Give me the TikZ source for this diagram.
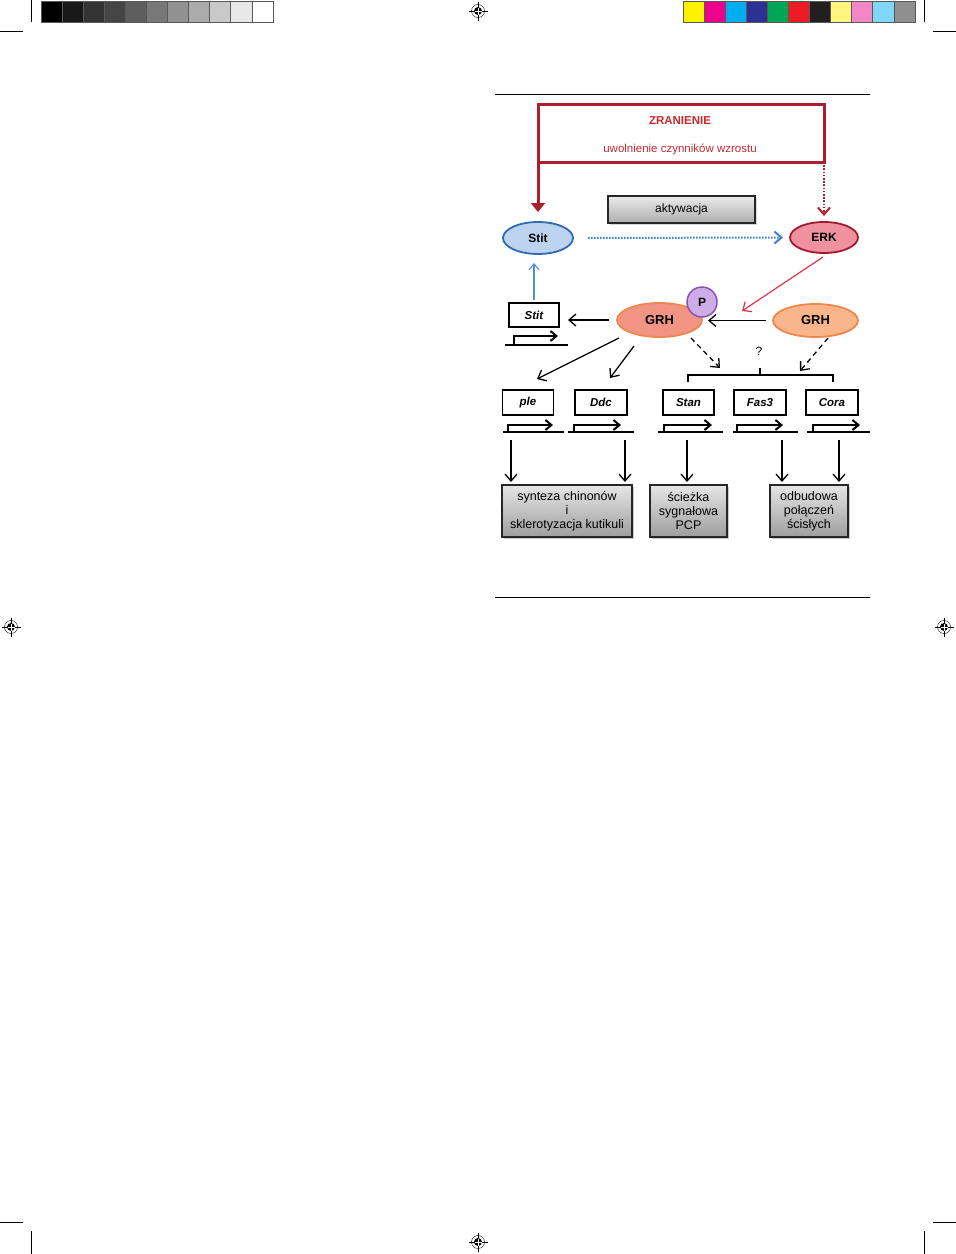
\documentclass[tikz,border=0pt]{standalone}
\usepackage{fontspec}
\setmainfont{Liberation Sans}
\usetikzlibrary{shapes.geometric,arrows.meta,shadows,calc}
\definecolor{wred}{RGB}{172,30,45}
\definecolor{tred}{RGB}{200,40,48}
\definecolor{sblue}{RGB}{50,105,180}
\definecolor{sfill}{RGB}{188,212,240}
\definecolor{efill}{RGB}{240,145,160}
\definecolor{eline}{RGB}{165,25,45}
\definecolor{g1fill}{RGB}{242,148,132}
\definecolor{g2fill}{RGB}{248,182,138}
\definecolor{gline}{RGB}{238,135,75}
\definecolor{pfill}{RGB}{206,172,232}
\definecolor{pline}{RGB}{135,85,175}
\definecolor{erkarrow}{RGB}{228,48,70}
\definecolor{dotblue}{RGB}{60,130,210}
\definecolor{thinblue}{RGB}{80,140,215}
\definecolor{barY}{RGB}{255,242,0}
\definecolor{barM}{RGB}{236,0,140}
\definecolor{barC}{RGB}{0,174,239}
\definecolor{barB}{RGB}{46,49,146}
\definecolor{barG}{RGB}{0,166,81}
\definecolor{barR}{RGB}{237,28,36}
\definecolor{barK}{RGB}{35,31,32}
\definecolor{barLY}{RGB}{255,246,127}
\definecolor{barP}{RGB}{244,134,198}
\definecolor{barLC}{RGB}{127,214,247}
\definecolor{barGr}{RGB}{143,143,143}
\newcommand\gprom[6]{%
  \draw[prom] (#1,#3) -- (#2,#3);
  \draw[promarr] (#4,#3) -- (#4,#3-#6) -- (#5,#3-#6);}
\tikzset{
  every node/.style={outer sep=0pt},
  ell/.style={ellipse, inner sep=0pt, line width=1.8pt},
  genebox/.style={draw, line width=1.3pt, minimum width=51pt, minimum height=25pt, inner sep=0pt,
    font=\fontsize{11.5}{12}\selectfont\bfseries\itshape},
  outbox/.style={draw=black!85, line width=1.3pt, top color=black!10, bottom color=black!38, inner sep=0pt,
    align=center, font=\fontsize{12.5}{14}\selectfont,
    drop shadow={shadow xshift=2pt, shadow yshift=-2pt, fill=black!35, opacity=.6}},
  arr/.style={-{Straight Barb[length=7pt,width=12pt]}, line width=1.3pt},
  dasharr/.style={arr, dash pattern=on 5pt off 4pt},
  prom/.style={line width=2.4pt},
  promarr/.style={-{Straight Barb[length=6pt,width=10pt]}, line width=2pt},
  regmark/.pic={
    \draw[line width=.4pt] (0,0) circle (6.5pt);
    \fill (0,0) circle (4pt);
    \draw[line width=.6pt] (-9.5,0) -- (9.5,0) (0,-9.5) -- (0,9.5);
    \draw[white, line width=.5pt] (-3.5,0) -- (3.5,0) (0,-3.5) -- (0,3.5);}
}
\begin{document}
\begin{tikzpicture}[x=1pt,y=-1pt]
\fill[white] (0,0) rectangle (956,1254);
\useasboundingbox (0,0) rectangle (956,1254);

% ---- printer marks ----
\foreach \c [count=\i from 0] in {black,black!90,black!80,black!73,black!63,black!53,black!43,black!33,black!21,black!9,white}
  {\fill[fill=\c] ({41+\i*21.09},1) rectangle ++(21.09,21.7);}
\foreach \i in {0,...,10} {\draw[black!65, line width=.8pt] ({41+\i*21.09},1) rectangle ++(21.09,21.7);}
\foreach \c [count=\i from 0] in {barY,barM,barC,barB,barG,barR,barK,barLY,barP,barLC,barGr}
  {\fill[fill=\c] ({683+\i*21.09},1) rectangle ++(21.09,21.7);}
\foreach \i in {0,...,10} {\draw[black!65, line width=.8pt] ({683+\i*21.09},1) rectangle ++(21.09,21.7);}
\draw[line width=.7pt] (31.5,0) -- (31.5,22) (0,31.5) -- (23,31.5);
\draw[line width=.7pt] (924.5,0) -- (924.5,22) (933,31.5) -- (956,31.5);
\draw[line width=.7pt] (0,1222.5) -- (23,1222.5) (31.5,1231) -- (31.5,1254);
\draw[line width=.7pt] (933,1222.5) -- (956,1222.5) (924.5,1231) -- (924.5,1254);
\pic at (478,11) {regmark};
\pic at (11,627) {regmark};
\pic at (944,627) {regmark};
\pic at (478,1242) {regmark};

% ---- rules ----
\draw[line width=.8pt] (495,94) -- (870,94);
\draw[line width=.8pt] (495,597) -- (870,597);

% ---- top ----
\node[draw=wred, line width=3pt, minimum width=286pt, minimum height=58pt, inner sep=0pt] (wound) at (681,133) {};
\node[text=tred, font=\fontsize{11.5}{12}\selectfont\bfseries] (zr) at (680,121) {ZRANIENIE};
\node[text=tred, font=\fontsize{11.5}{12}\selectfont] (uw) at (680,149) {uwolnienie czynników wzrostu};

\node[draw=black!85, line width=1.5pt, top color=black!8, bottom color=black!32, minimum width=147pt, minimum height=27pt,
  inner sep=0pt, font=\fontsize{12}{13}\selectfont,
  drop shadow={shadow xshift=1.5pt, shadow yshift=-1.5pt, fill=black!30, opacity=.5}] (akt) at (681.5,209.5) {aktywacja};

\node[ell, draw=sblue, fill=sfill, minimum width=70pt, minimum height=32pt, font=\fontsize{12}{13}\selectfont\bfseries] (stit) at (538,238) {Stit};
\node[ell, draw=eline, fill=efill, minimum width=68pt, minimum height=31pt, font=\fontsize{12}{13}\selectfont\bfseries] (erk) at (824,237.5) {ERK};

\draw[wred, line width=3pt, -{Triangle[length=9pt,width=14pt]}, shorten >=10pt] (wound.south west) -- (wound.south west |- stit.north);
\draw[wred, line width=2pt, dash pattern=on 1.6pt off 1.6pt, -{Straight Barb[length=7pt,width=12pt]}, shorten >=6pt] (wound.south east) -- (wound.south east |- erk.north);
\draw[dotblue, line width=2pt, dash pattern=on 1.5pt off 1.5pt, -{Straight Barb[length=7pt,width=12pt]}, shorten <=15pt, shorten >=7pt] (stit.east) -- (erk.west);

% ---- middle ----
\node[genebox, minimum width=50pt, minimum height=24pt] (stitg) at (534,315) {Stit};
\gprom{505}{568}{345}{514}{558}{9}
\draw[-{Straight Barb[length=6pt,width=10pt]}, thinblue, line width=1.1pt, shorten <=3pt, shorten >=9pt] (stitg.north) -- (stitg.north |- stit.south);

\node[ell, draw=gline, fill=g1fill, minimum width=85pt, minimum height=34pt, font=\fontsize{13}{14}\selectfont\bfseries] (grh1) at (659.5,320) {GRH};
\node[circle, draw=pline, fill=pfill, line width=1.5pt, minimum size=30pt, inner sep=0pt, font=\fontsize{12}{13}\selectfont\bfseries] (p) at (702,302) {P};
\node[ell, draw=gline, fill=g2fill, minimum width=85pt, minimum height=33pt, font=\fontsize{13}{14}\selectfont\bfseries] (grh2) at (815.5,320.5) {GRH};

\draw[arr, shorten <=7pt, shorten >=6pt] (grh2.west) -- (grh2.west -| grh1.east);
\draw[arr, shorten <=8pt, shorten >=9pt] (grh1.west) -- (grh1.west -| stitg.east);
\coordinate (erktip) at (742,311);
\draw[-{Straight Barb[length=7pt,width=12pt]}, erkarrow, line width=1.2pt] ($(erk.south)+(-1,4)$) -- (erktip);

% bracket
\draw[line width=1.4pt] (688,382) -- (688,375) -- (833,375) -- (833,382) (760,375) -- (760,368);
\node[font=\fontsize{12}{13}\selectfont] (q) at (759,351) {?};
\coordinate (brl) at (720,368);
\coordinate (brr) at (800,371);

% gene boxes
\node[genebox] (ple) at (528,402.5) {ple};
\node[genebox, minimum width=52pt] (ddc) at (601,402.5) {Ddc};
\node[genebox] (stan) at (688.5,402.5) {Stan};
\node[genebox, minimum width=52pt] (fas) at (760,402.5) {Fas3};
\node[genebox, minimum width=52pt] (cora) at (832,402.5) {Cora};
\gprom{503}{564}{432}{508}{553}{7}
\gprom{568}{634}{432}{574}{621}{7}
\gprom{658}{723}{432}{664}{712}{7}
\gprom{733}{798}{432}{737}{783}{7}
\gprom{807}{870}{432}{813}{860}{7}

\draw[arr] ($(grh1)+(-40.5,18)$) -- ($(ple.north)+(9,-11)$);
\draw[arr] ($(grh1)+(-25.5,26)$) -- ($(ddc.north)+(9,-12)$);
\draw[dasharr] ($(grh1)+(31.5,18)$) -- (brl);
\draw[dasharr] ($(grh2)+(12.5,17.5)$) -- (brr);

% outcome boxes
\node[outbox, minimum width=130pt, minimum height=52pt] (o1) at (567,511) {synteza chinonów\\i\\sklerotyzacja kutikuli};
\node[outbox, minimum width=77pt, minimum height=52pt] (o2) at (688.5,511) {ścieżka\\sygnałowa\\PCP};
\node[outbox, minimum width=78pt, minimum height=52pt] (o3) at (809,511) {odbudowa\\połączeń\\ścisłych};

\coordinate (d1) at ($(ple.south)+(-17,25)$);
\coordinate (d2) at ($(ddc.south)+(24,25)$);
\coordinate (d3) at ($(stan.south)+(-1.5,25)$);
\coordinate (d4) at ($(fas.south)+(22,25)$);
\coordinate (d5) at ($(cora.south)+(7,25)$);
\draw[arr, shorten >=3pt] (d1) -- (d1 |- o1.north);
\draw[arr, shorten >=3pt] (d2) -- (d2 |- o1.north);
\draw[arr, shorten >=3pt] (d3) -- (d3 |- o2.north);
\draw[arr, shorten >=3pt] (d4) -- (d4 |- o3.north);
\draw[arr, shorten >=3pt] (d5) -- (d5 |- o3.north);
\end{tikzpicture}
\end{document}
